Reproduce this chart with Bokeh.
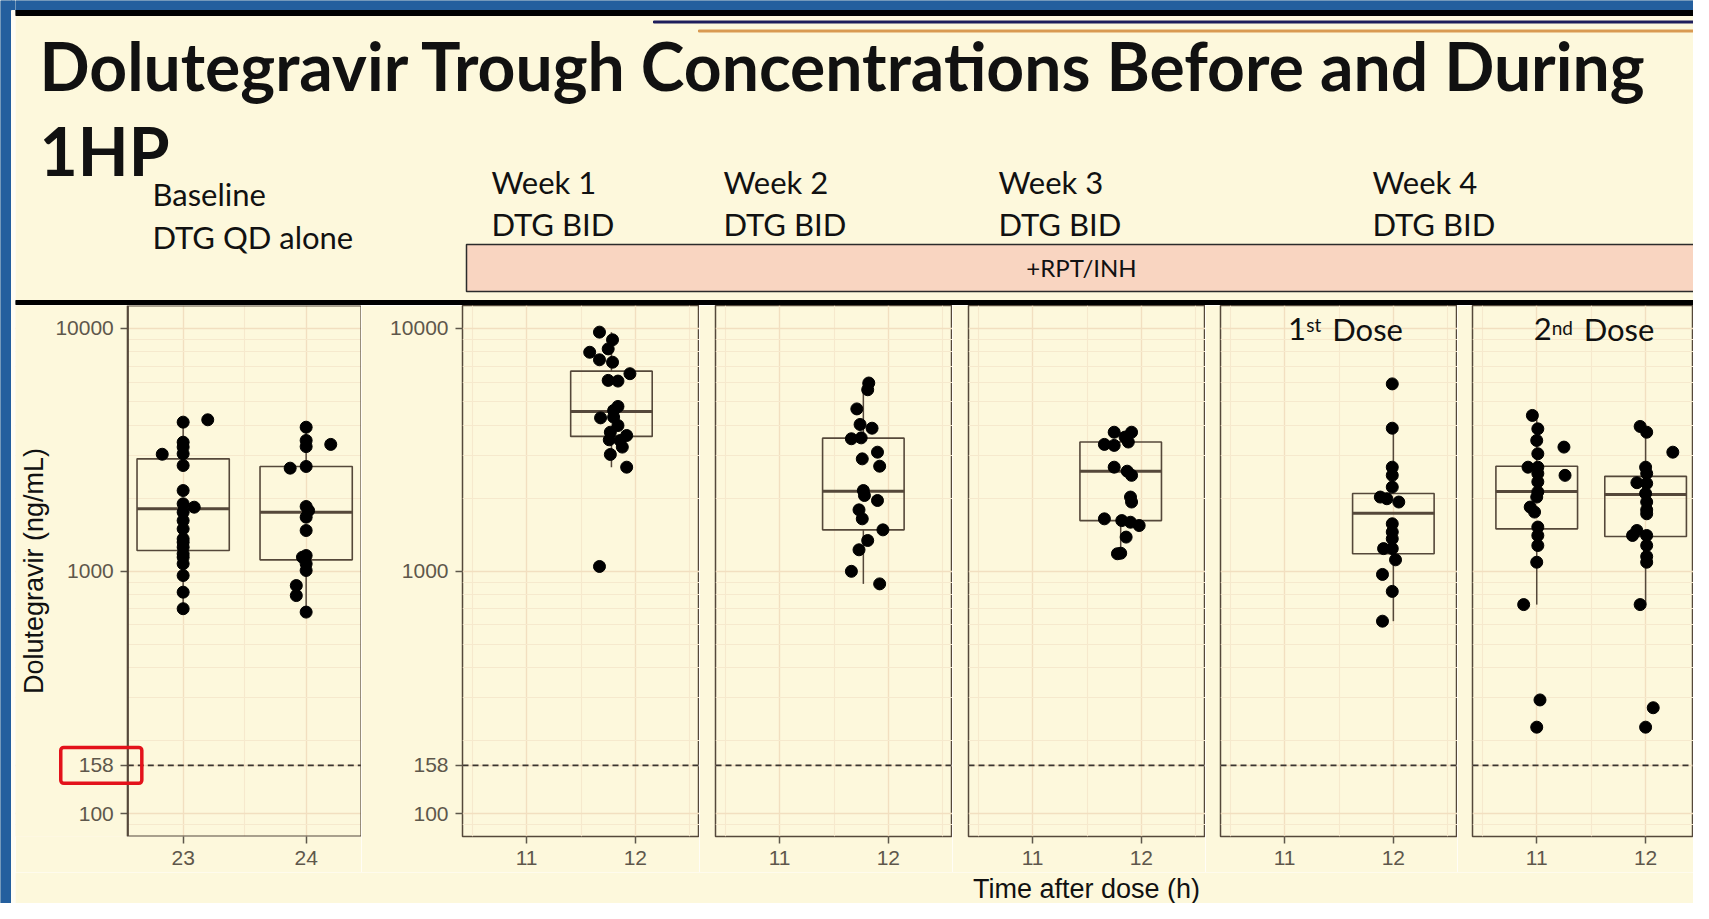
import numpy as np
from bokeh.plotting import figure
from bokeh.models import Range1d, FixedTicker, Label, Span, PrintfTickFormatter, BoxAnnotation
from bokeh.layouts import row, column
from bokeh.embed import file_html
from bokeh.resources import INLINE

# ---------------- data ----------------
Y_TICKS = [100, 158, 1000, 10000]
Y_MINOR = [90, 200, 300, 400, 500, 600, 700, 800, 900,
           2000, 3000, 4000, 5000, 6000, 7000, 8000, 9000]
THRESHOLD = 158
BASE_TICKS = [23, 24]
BASE_MINOR = [23.5]
WEEK_TICKS = [11, 12]
WEEK_MINOR = [10.5, 11.5, 12.5]

# points: time after dose (h) and concentration (ng/mL)
base23_t = [23.0, 23.2, 23.0, 23.0, 23.0, 22.83, 23.0, 23.0, 23.0, 23.09, 23.0,
            23.0, 23.0, 23.0, 23.0, 23.0, 23.0, 23.0, 23.0, 23.0, 23.0, 23.0]
base23_c = [4110, 4203, 3398, 3243, 3044, 3030, 2723, 2147, 1893, 1833, 1748,
            1614, 1492, 1357, 1314, 1254, 1178, 1140, 1071, 958, 818, 699]
base24_t = [24.0, 24.0, 24.0, 24.2, 23.87, 24.0, 24.0, 24.02, 24.0, 24.0, 24.0,
            23.97, 24.0, 24.0, 23.92, 23.92, 24.0]
base24_c = [3917, 3453, 3258, 3327, 2655, 2698, 1845, 1775, 1667, 1469, 1158,
            1140, 1071, 1005, 871, 792, 677]
wk1_t = [11.67, 11.79, 11.75, 11.58, 11.67, 11.79, 11.95, 11.75, 11.84, 11.84, 11.80,
         11.68, 11.80, 11.84, 11.77, 11.92, 11.76, 11.86, 11.88, 11.77, 11.92, 11.67]
wk1_c = [9660, 8980, 8240, 7980, 7430, 7260, 6510, 6110, 6070, 4770, 4590,
         4280, 4310, 3980, 3735, 3620, 3475, 3452, 3243, 3024, 2680, 1044]
wk2_t = [11.82, 11.81, 11.71, 11.74, 11.85, 11.66, 11.75, 11.76, 11.90, 11.92,
         11.77, 11.78, 11.90, 11.73, 11.76, 11.95, 11.81, 11.73, 11.66, 11.92]
wk2_c = [5960, 5590, 4660, 4020, 3880, 3510, 3540, 2900, 3090, 2705,
         2147, 2048, 1953, 1787, 1641, 1478, 1336, 1223, 997, 885]
wk3_t = [11.75, 11.91, 11.85, 11.66, 11.75, 11.88, 11.75, 11.87, 11.91,
         11.90, 11.91, 11.66, 11.82, 11.90, 11.98, 11.86, 11.81, 11.78]
wk3_c = [3735, 3735, 3566, 3327, 3296, 3403, 2680, 2580, 2480,
         2018, 1925, 1641, 1614, 1589, 1540, 1380, 1184, 1178]
wk4d1_t = [11.99, 11.99, 11.99, 11.99, 11.99, 11.88, 11.94, 12.05, 11.99,
           11.99, 11.99, 11.91, 11.99, 12.02, 11.90, 11.99, 11.90]
wk4d1_c = [5910, 3880, 2680, 2480, 2218, 2018, 1986, 1925, 1566,
           1448, 1359, 1237, 1237, 1112, 968, 824, 621]
wk4d2a_t = [10.96, 11.01, 11.0, 11.01, 10.92, 11.01, 11.25, 11.26, 11.01, 11.01, 11.01,
            11.0, 10.94, 10.98, 11.01, 11.01, 11.01, 11.0, 10.88, 11.03, 11.0]
wk4d2a_c = [4380, 3857, 3453, 3044, 2680, 2680, 3243, 2480, 2524, 2333, 2120,
            2018, 1835, 1750, 1518, 1401, 1274, 1087, 727, 294, 227]
wk4d2b_t = [11.95, 12.01, 12.25, 12.0, 12.01, 11.92, 12.01, 12.0, 12.01, 12.01,
            12.01, 11.88, 11.92, 12.01, 12.01, 12.01, 12.01, 11.95, 12.07, 12.0]
wk4d2b_c = [3945, 3735, 3090, 2680, 2524, 2313, 2297, 2088, 1925, 1787,
            1722, 1401, 1469, 1401, 1274, 1148, 1087, 727, 273, 227]

# boxplot statistics per group
box_panel = [0, 0, 1, 2, 3, 4, 5, 5]
box_t = [23, 24, 11.78, 11.77, 11.81, 12.0, 11.0, 12.0]
box_q1 = [1215, 1112, 3590, 1478, 1614, 1178, 1492, 1387]
box_med = [1805, 1748, 4550, 2133, 2580, 1730, 2128, 2070]
box_q3 = [2900, 2698, 6670, 3530, 3403, 2088, 2705, 2457]
box_lo = [699, 677, 2680, 885, 1178, 621, 727, 727]
box_hi = [4203, 3917, 9660, 5960, 3735, 3880, 4380, 3945]
BOX_W = 0.75

point_groups = [(0, base23_t, base23_c), (0, base24_t, base24_c), (1, wk1_t, wk1_c),
                (2, wk2_t, wk2_c), (3, wk3_t, wk3_c), (4, wk4d1_t, wk4d1_c),
                (5, wk4d2a_t, wk4d2a_c), (5, wk4d2b_t, wk4d2b_c)]

Y_LO, Y_HI = 80.4, 12440
PX_PER_DECADE = 242.5
BASE_X_LO, BASE_X_HI = 22.55, 24.45        # visible baseline panel
BASE_VIEW_LO = 21.637                       # frame extends left to hold the axis

# ---------------- style ----------------
BG = "#FDF8DC"
LINE = "#55483A"
TICKC = "#5E574B"
GRID_MAJOR = "#F2DFC0"
GRID_MINOR = "#F6E9CD"
TXT = "#111111"
SLIDE_FONT = "Lato"
AXIS_FONT = "Liberation Sans"
BASE_K = 0.43   # compensation of label baseline placement (fraction of font size)


def canvas(width, height, x0, x1, y_top, y_bottom):
    c = figure(width=width, height=height, x_range=Range1d(x0, x1),
               y_range=Range1d(y_bottom, y_top), x_axis_location=None,
               y_axis_location=None, output_backend="svg", toolbar_location=None,
               min_border=0, background_fill_color=BG, border_fill_color=BG)
    c.outline_line_color = None
    c.grid.visible = False
    return c


def label(fig, x, y, text, size, bold=False, font=SLIDE_FONT, align="left", color=TXT):
    fig.add_layout(Label(x=x, y=y - BASE_K * size, text=text, text_font=font,
                         text_font_size=f"{size}px",
                         text_font_style="bold" if bold else "normal", text_color=color,
                         text_align=align, text_baseline="alphabetic"))


def log_label(fig, x, val, text, size):
    yv = val * 10 ** (BASE_K * size / PX_PER_DECADE)
    fig.add_layout(Label(x=x, y=yv, text=text, text_font=SLIDE_FONT,
                         text_font_size=f"{size}px", text_color=TXT,
                         text_align="left", text_baseline="alphabetic"))


def style_axis(ax):
    ax.axis_line_color = None
    ax.major_tick_line_color = TICKC
    ax.major_tick_line_width = 1.5
    ax.major_tick_out = 7
    ax.major_tick_in = 0
    ax.minor_tick_line_color = None
    ax.major_label_text_font = AXIS_FONT
    ax.major_label_text_font_size = "21px"
    ax.major_label_text_color = TICKC
    ax.major_label_standoff = 7


def panel(width, border_left, x_lo, x_hi, xticks, xminor, yaxis, span=True):
    p = figure(width=width, height=567, x_range=Range1d(x_lo, x_hi),
               y_range=Range1d(Y_LO, Y_HI), y_axis_type="log",
               y_axis_location="left" if yaxis else None,
               output_backend="svg", toolbar_location=None,
               min_border_left=border_left, min_border_right=0, min_border_top=0,
               min_border_bottom=36, background_fill_color=BG, border_fill_color=BG)
    p.outline_line_color = LINE
    p.outline_line_width = 1.5
    xt = FixedTicker(ticks=xticks, minor_ticks=xminor)
    yt = FixedTicker(ticks=Y_TICKS, minor_ticks=Y_MINOR)
    p.xaxis[0].ticker = xt
    style_axis(p.xaxis[0])
    if yaxis:
        p.yaxis[0].ticker = yt
        p.yaxis[0].formatter = PrintfTickFormatter(format="%d")
        style_axis(p.yaxis[0])
    p.xgrid[0].ticker = xt
    p.ygrid[0].ticker = yt
    for g in (p.xgrid[0], p.ygrid[0]):
        g.grid_line_color = GRID_MAJOR
        g.grid_line_width = 1.4
        g.minor_grid_line_color = GRID_MINOR
        g.minor_grid_line_width = 1.1
    if span:
        p.add_layout(Span(location=THRESHOLD, dimension="width", line_color="#3A3530",
                          line_dash="6 4", line_width=1.6))
    return p


# ---------------- panels ----------------
base = panel(346, 0, BASE_VIEW_LO, BASE_X_HI, BASE_TICKS, BASE_MINOR, True, span=False)
base.outline_line_color = None
yax = base.yaxis[0]
yax.fixed_location = BASE_X_LO
yax.axis_label = "Dolutegravir (ng/mL)"
yax.axis_label_text_font = AXIS_FONT
yax.axis_label_text_font_size = "27px"
yax.axis_label_text_font_style = "normal"
yax.axis_label_text_color = TXT
yax.axis_label_standoff = 3
# cover the grid in the axis area left of the panel
base.quad(left=[BASE_VIEW_LO], right=[BASE_X_LO], top=[Y_HI], bottom=[Y_LO],
          fill_color=BG, line_color=None)
base.segment(x0=[BASE_X_LO], x1=[BASE_X_HI], y0=[THRESHOLD], y1=[THRESHOLD],
             line_color="#3A3530", line_dash="6 4", line_width=1.6)
base.add_layout(BoxAnnotation(left=BASE_X_LO, right=BASE_X_HI, top=Y_HI, bottom=Y_LO,
                              fill_color=None, fill_alpha=0, line_color=LINE,
                              line_alpha=1.0, line_width=2.2))
# red highlight around the 158 tick label
base.add_layout(BoxAnnotation(left=22.005, right=22.664, top=THRESHOLD * 1.186,
                              bottom=THRESHOLD / 1.186, fill_color=None, fill_alpha=0,
                              line_color="#E3121B", line_alpha=1.0, line_width=3.5,
                              border_radius=3))

panels = [
    base,
    panel(338, 101, 10.41, 12.59, WEEK_TICKS, WEEK_MINOR, True),
    panel(253, 16, 10.41, 12.59, WEEK_TICKS, WEEK_MINOR, False),
    panel(253, 16, 10.41, 12.59, WEEK_TICKS, WEEK_MINOR, False),
    panel(252, 15, 10.41, 12.59, WEEK_TICKS, WEEK_MINOR, False),
    panel(236, 15, 10.41, 12.44, WEEK_TICKS, WEEK_MINOR, False),
]

for i, pi in enumerate(box_panel):
    p = panels[pi]
    t = box_t[i]
    p.segment(x0=[t, t], x1=[t, t], y0=[box_q3[i], box_q1[i]], y1=[box_hi[i], box_lo[i]],
              line_color=LINE, line_width=1.5)
    p.quad(left=[t - BOX_W / 2], right=[t + BOX_W / 2], top=[box_q3[i]], bottom=[box_q1[i]],
           fill_color=None, line_color=LINE, line_width=1.6)
    p.segment(x0=[t - BOX_W / 2], x1=[t + BOX_W / 2], y0=[box_med[i]], y1=[box_med[i]],
              line_color=LINE, line_width=3)

for pi, ts, cs in point_groups:
    panels[pi].scatter(ts, cs, size=12, color="black")

# dose labels inside the week-4 panels
log_label(panels[4], 11.032, 8757, "1", 31)
log_label(panels[4], 11.198, 9627, "st", 19)
log_label(panels[4], 11.438, 8757, "Dose", 31)
log_label(panels[5], 10.972, 8757, "2", 31)
log_label(panels[5], 11.138, 9357, "nd", 19)
log_label(panels[5], 11.431, 8757, "Dose", 31)

# ---------------- header ----------------
head = canvas(1678, 305, 15, 1693, 0, 305)
head.quad(left=[15], right=[1693], top=[0], bottom=[10], color="#245F9E")
head.quad(left=[15], right=[1693], top=[10], bottom=[15], color="black")
head.quad(left=[653], right=[1693], top=[20.5], bottom=[22.5], color="#1E1F5C")
head.quad(left=[698], right=[1693], top=[29.5], bottom=[31.5], color="#D99A52")
head.quad(left=[466], right=[1697], top=[244], bottom=[291], fill_color="#F9D5C1",
          line_color="#2B2B2B", line_width=1.5)
head.quad(left=[15], right=[1693], top=[300], bottom=[304], color="black")
label(head, 39, 93, "Dolutegravir Trough Concentrations Before and During", 66, bold=True)
label(head, 39, 178, "1HP", 66, bold=True)
label(head, 152, 207, "Baseline", 31)
label(head, 152, 250, "DTG QD alone", 31)
for xw, wk in [(491, "Week 1"), (723, "Week 2"), (998, "Week 3"), (1372, "Week 4")]:
    label(head, xw, 195, wk, 31)
    label(head, xw, 237, "DTG BID", 31)
label(head, 1081, 277, "+RPT/INH", 24, align="center")

# ---------------- footer ----------------
foot = canvas(1678, 31, 15, 1693, 872, 903)
label(foot, 1086, 900, "Time after dose (h)", 27, font=AXIS_FONT, align="center")

# ---------------- left strip ----------------
strip = canvas(15, 903, 0, 15, 0, 903)
strip.quad(left=[0], right=[11], top=[0], bottom=[903], color="#245F9E")
strip.quad(left=[11], right=[15], top=[0], bottom=[10], color="#245F9E")
strip.quad(left=[11], right=[15], top=[10], bottom=[903], color="#FFFDF3")

layout = row(strip, column(head, row(*panels), foot))
open("out.html", "w").write(file_html(layout, INLINE))
